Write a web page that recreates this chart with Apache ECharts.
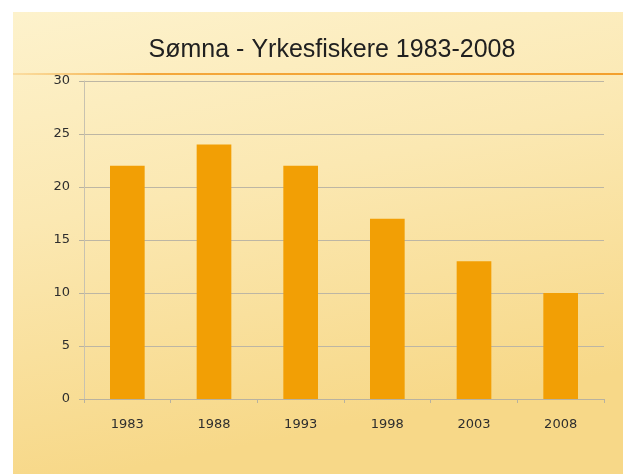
<!DOCTYPE html>
<html>
<head>
<meta charset="utf-8">
<script src="https://cdn.jsdelivr.net/npm/echarts@6/dist/echarts.min.js"></script>
<style>
  html, body { margin: 0; padding: 0; background: #fff; }
  #chart { width: 623px; height: 474px; }
</style>
</head>
<body>
<div id="chart"></div>
<script>
const years = ['1983', '1988', '1993', '1998', '2003', '2008']
const fiskere = [22, 24, 22, 17, 13, 10]
const yTicks = [0, 5, 10, 15, 20, 25, 30]

const myChart = echarts.init(document.getElementById('chart'))

const option = {
  backgroundColor: '#ffffff',
  animation: false,
  graphic: [
    {
      type: 'rect', z: -10, silent: true,
      shape: {x: 13, y: 12, width: 610, height: 462},
      style: {
        fill: new echarts.graphic.LinearGradient(0, 0, 0.15, 1, [
          {offset: 0, color: '#fdf2cc'},
          {offset: 0.45, color: '#fbe8b2'},
          {offset: 1, color: '#f7d888'}
        ])
      }
    },
    {
      // orange rule under the title
      type: 'rect', z: -9, silent: true,
      shape: {x: 13, y: 73, width: 610, height: 2},
      style: {
        fill: new echarts.graphic.LinearGradient(0, 0, 1, 0, [
          {offset: 0, color: 'rgba(245,170,60,0.25)'},
          {offset: 0.22, color: 'rgba(243,160,45,0.9)'},
          {offset: 1, color: '#f3a02d'}
        ])
      }
    }
  ],
  title: {
    text: 'Sømna - Yrkesfiskere 1983-2008',
    left: 327,
    textAlign: 'center',
    top: 33,
    textStyle: {
      fontFamily: 'Liberation Sans',
      fontSize: 25,
      fontWeight: 'normal',
      color: '#202020'
    }
  },
  grid: {left: 84, right: 19, top: 81, bottom: 75},
  xAxis: {
    type: 'category',
    data: years,
    axisLine: {lineStyle: {color: '#b8b2a0'}},
    axisTick: {show: true, length: 4, lineStyle: {color: '#b8b2a0'}},
    axisLabel: {
      margin: 19,
      fontFamily: 'DejaVu Sans',
      fontSize: 13,
      color: '#2e2e2e'
    }
  },
  yAxis: {
    type: 'value',
    min: 0,
    max: yTicks[yTicks.length - 1],
    interval: 5,
    axisLine: {show: true, lineStyle: {color: '#c8c2b0'}},
    axisTick: {show: true, length: 5, lineStyle: {color: '#b8b2a0'}},
    splitLine: {lineStyle: {color: '#bdb6a4'}},
    axisLabel: {
      margin: 14,
      fontFamily: 'DejaVu Sans',
      fontSize: 13,
      color: '#2e2e2e'
    }
  },
  series: [
    {
      name: 'Yrkesfiskere',
      type: 'bar',
      data: fiskere,
      barWidth: '40%',
      itemStyle: {color: '#f29f05'}
    }
  ]
}
myChart.setOption(option)
</script>
</body>
</html>
